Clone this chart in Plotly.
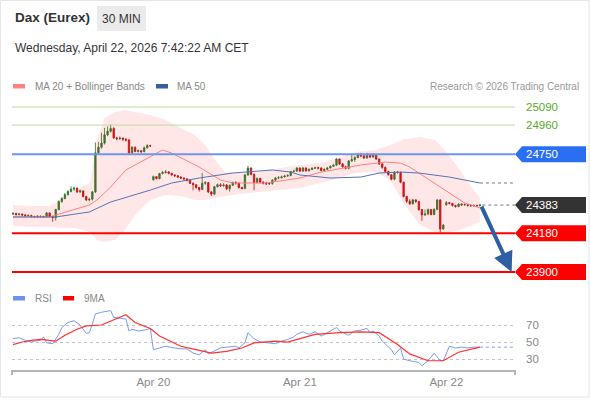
import plotly.graph_objects as go

# ---- 30 min candles, x = bar index ----
opens = [24318, 24322, 24315, 24318, 24312, 24306, 24308, 24300, 24297, 24302,
         24300, 24298, 24326, 24300, 24292, 24350, 24408, 24430, 24458, 24480,
         24498, 24505, 24478, 24485, 24445, 24420, 24425, 24478, 24760, 24800,
         24830, 24890, 24915, 24935, 24868, 24862, 24866, 24858, 24852, 24760,
         24800, 24770, 24775, 24768, 24796, 24812, 24565, 24588, 24574, 24610,
         24618, 24622, 24612, 24600, 24595, 24585, 24578, 24572, 24562, 24540,
         24530, 24510, 24495, 24540, 24545, 24478, 24462, 24515, 24530, 24522,
         24528, 24500, 24525, 24545, 24542, 24510, 24502, 24600, 24650, 24605,
         24545, 24575, 24548, 24540, 24535, 24538, 24562, 24578, 24580, 24586,
         24592, 24596, 24625, 24628, 24650, 24628, 24650, 24630, 24640, 24648,
         24652, 24650, 24632, 24640, 24650, 24662, 24670, 24715, 24680, 24660,
         24648, 24700, 24712, 24725, 24745, 24738, 24722, 24742, 24730, 24744,
         24715, 24680, 24655, 24625, 24602, 24570, 24620, 24618, 24548, 24445,
         24410, 24392, 24420, 24408, 24350, 24312, 24318, 24350, 24315, 24352,
         24420, 24210, 24385, 24400, 24395, 24380, 24372, 24390, 24384, 24386,
         24380, 24378, 24380, 24378]
highs = [24332, 24328, 24326, 24322, 24318, 24316, 24312, 24306, 24310, 24308,
         24306, 24334, 24330, 24304, 24356, 24416, 24440, 24470, 24490, 24518,
         24515, 24510, 24495, 24490, 24450, 24436, 24485, 24835, 24838, 24905,
         24940, 24950, 24965, 24945, 24875, 24878, 24870, 24866, 24860, 24808,
         24805, 24786, 24780, 24806, 24822, 24818, 24596, 24592, 24615, 24630,
         24636, 24628, 24615, 24605, 24598, 24590, 24582, 24575, 24565, 24545,
         24532, 24512, 24615, 24556, 24550, 24485, 24522, 24538, 24540, 24540,
         24535, 24532, 24552, 24555, 24545, 24515, 24608, 24665, 24655, 24610,
         24582, 24580, 24555, 24552, 24548, 24570, 24586, 24592, 24596, 24602,
         24606, 24630, 24638, 24656, 24655, 24658, 24655, 24648, 24656, 24660,
         24660, 24655, 24648, 24658, 24670, 24680, 24720, 24718, 24686, 24666,
         24708, 24755, 24735, 24758, 24760, 24748, 24760, 24748, 24755, 24750,
         24718, 24685, 24660, 24630, 24606, 24628, 24630, 24625, 24552, 24450,
         24425, 24428, 24425, 24412, 24355, 24350, 24358, 24355, 24360, 24425,
         24425, 24246, 24412, 24405, 24398, 24385, 24396, 24394, 24395, 24390,
         24388, 24388, 24386, 24390]
lows = [24310, 24306, 24308, 24304, 24298, 24299, 24292, 24290, 24290, 24292,
        24290, 24294, 24294, 24262, 24270, 24345, 24400, 24425, 24452, 24475,
        24485, 24470, 24470, 24438, 24412, 24410, 24415, 24470, 24752, 24790,
        24820, 24880, 24905, 24860, 24850, 24852, 24845, 24840, 24750, 24752,
        24764, 24762, 24758, 24764, 24790, 24802, 24560, 24568, 24568, 24605,
        24610, 24605, 24595, 24585, 24578, 24570, 24562, 24552, 24535, 24490,
        24500, 24480, 24490, 24530, 24470, 24448, 24455, 24510, 24515, 24515,
        24490, 24480, 24520, 24530, 24502, 24495, 24498, 24595, 24598, 24490,
        24540, 24540, 24532, 24528, 24528, 24530, 24556, 24570, 24575, 24582,
        24586, 24590, 24618, 24622, 24620, 24622, 24624, 24624, 24636, 24644,
        24640, 24626, 24628, 24638, 24648, 24660, 24668, 24672, 24652, 24640,
        24640, 24698, 24695, 24722, 24728, 24716, 24718, 24722, 24722, 24708,
        24672, 24645, 24615, 24595, 24562, 24562, 24610, 24540, 24438, 24398,
        24385, 24385, 24398, 24342, 24270, 24305, 24310, 24308, 24310, 24345,
        24185, 24205, 24378, 24388, 24372, 24365, 24368, 24376, 24378, 24372,
        24370, 24372, 24370, 24376]
closes = [24322, 24315, 24318, 24312, 24306, 24308, 24300, 24297, 24302, 24300,
          24298, 24326, 24300, 24292, 24350, 24408, 24430, 24458, 24480, 24498,
          24505, 24478, 24485, 24445, 24420, 24425, 24478, 24760, 24800, 24830,
          24890, 24915, 24935, 24868, 24862, 24866, 24858, 24852, 24760, 24800,
          24770, 24775, 24768, 24796, 24812, 24810, 24588, 24574, 24610, 24618,
          24622, 24612, 24600, 24595, 24585, 24578, 24572, 24562, 24540, 24530,
          24510, 24495, 24540, 24545, 24478, 24462, 24515, 24530, 24522, 24528,
          24500, 24525, 24545, 24542, 24510, 24502, 24600, 24650, 24605, 24545,
          24575, 24548, 24540, 24535, 24538, 24562, 24578, 24580, 24586, 24592,
          24596, 24625, 24628, 24650, 24628, 24650, 24630, 24640, 24648, 24652,
          24650, 24632, 24640, 24650, 24662, 24670, 24715, 24680, 24660, 24648,
          24700, 24712, 24725, 24745, 24738, 24722, 24742, 24730, 24744, 24715,
          24680, 24655, 24625, 24602, 24570, 24620, 24618, 24548, 24445, 24410,
          24392, 24420, 24408, 24350, 24312, 24318, 24350, 24315, 24352, 24420,
          24210, 24238, 24400, 24395, 24380, 24372, 24390, 24384, 24386, 24380,
          24378, 24380, 24378, 24383]
bars = list(range(len(closes)))

# moving averages / bollinger (bar index, price)
ma20_idx = [0, 12, 14, 25, 27.5, 32, 37, 43, 49, 52, 61, 68, 72, 83, 94, 101, 114, 122, 127, 130, 133, 140, 145, 148, 153]
ma20_val = [24297, 24297, 24311, 24383, 24419, 24513, 24636, 24708, 24780, 24758, 24657, 24564, 24542, 24542, 24578,
            24621, 24672, 24693, 24686, 24657, 24614, 24513, 24441, 24398, 24362]
ma50_idx = [0, 14, 25, 32, 45, 52, 61, 72, 85, 91, 94, 104, 114, 120, 127, 133, 143, 153]
ma50_val = [24297, 24297, 24333, 24405, 24491, 24542, 24578, 24614, 24636, 24621, 24600, 24578, 24585, 24614,
            24621, 24614, 24585, 24542]
band_idx = [0, 5.6, 12, 15.4, 20.3, 25.2, 27.5, 30, 33.4, 36.7, 40, 45, 50, 54.7, 59.6, 63, 66.2, 69.5, 74.4,
            81, 87.5, 94, 100.6, 107, 112, 118.6, 123.5, 128.4, 133.4, 138.3, 141.5, 146.5, 149.7, 153]
band_upper = [24383, 24376, 24376, 24419, 24491, 24542, 24852, 25011, 25054, 25068, 25054, 25032, 24996, 24946,
              24888, 24816, 24708, 24621, 24614, 24621, 24650, 24672, 24686, 24722, 24766, 24780, 24816, 24860,
              24874, 24852, 24780, 24636, 24527, 24434]
band_lower = [24232, 24225, 24225, 24217, 24217, 24189, 24131, 24116, 24131, 24203, 24311, 24419, 24455, 24448,
              24419, 24419, 24434, 24448, 24463, 24477, 24491, 24506, 24542, 24578, 24614, 24621, 24564, 24383,
              24239, 24189, 24181, 24203, 24232, 24261]

# RSI and its 9 period MA
rsi_idx = [0, 2, 4, 6, 7, 9, 10, 11, 13, 15, 16, 18, 20, 22, 24, 25, 26, 27, 29, 32, 33, 35, 37, 38, 39, 41, 43,
           45, 46, 48, 50, 53, 55, 57, 59, 61, 63, 64, 66, 68, 70, 73, 74, 76, 77, 79, 81, 83, 86, 88, 90, 92, 93,
           95, 97, 99, 101, 103, 106, 107, 110, 112, 114, 116, 117, 118, 120, 121, 123, 124, 125, 127, 128, 130,
           133, 134, 136, 138, 140, 141, 143, 145, 147, 149, 151, 153]
rsi_val = [54, 55, 52, 50, 51, 52, 56, 49, 48, 59, 67, 73, 75, 70, 60, 61, 71, 83, 85, 87, 79, 78, 77, 63, 65, 63,
           64, 66, 41, 43, 45, 43, 42, 42, 37, 35, 41, 36, 40, 43, 44, 45, 43, 49, 61, 54, 50, 49, 48, 51, 53, 56,
           59, 62, 59, 62, 57, 61, 67, 63, 58, 63, 64, 66, 61, 63, 57, 51, 45, 41, 35, 43, 30, 28, 26, 22, 28, 37,
           28, 28, 45, 43, 44, 43, 44, 44]
ma9_idx = [0, 3, 6, 9, 14, 17, 21, 24, 29, 33, 37, 40, 45, 48, 55, 60, 65, 70, 75, 79, 86, 90, 93, 99, 107, 114,
           120, 126, 130, 136, 141, 146, 153]
ma9_val = [47, 50, 52, 53, 51, 58, 65, 69, 70, 76, 82, 73, 66, 57, 45, 41, 37, 39, 43, 49, 51, 50, 53, 59, 61, 62,
           61, 47, 36, 28, 28, 38, 44]

# key levels
resistances = [25090, 24960]
pivot = 24750
supports = [24180, 23900]
target = 23900

day_ticks = [46, 94, 142]
day_labels = ["Apr 20", "Apr 21", "Apr 22"]

FONT = "Liberation Sans, Arial, sans-serif"
X_END = 164.5


def px(X):   # pixel -> paper x
    return (X - 12) / 503


def py(Y):   # pixel -> paper y
    return (370 - Y) / 275


def label(X, Y, text, size, color, anchor="left"):
    return dict(xref="paper", yref="paper", x=px(X), y=py(Y), text=text, showarrow=False,
                xanchor=anchor, yanchor="middle", font=dict(size=size, color=color, family=FONT))


fig = go.Figure()

fig.add_trace(go.Scatter(x=band_idx, y=band_lower, mode="lines", line=dict(width=0),
                         hoverinfo="skip", showlegend=False))
fig.add_trace(go.Scatter(x=band_idx, y=band_upper, mode="lines", line=dict(width=0),
                         fill="tonexty", fillcolor="rgba(255,40,40,0.11)",
                         hoverinfo="skip", showlegend=False))
fig.add_trace(go.Scatter(x=ma20_idx, y=ma20_val, mode="lines",
                         line=dict(color="#ff8080", width=1), showlegend=False))
fig.add_trace(go.Scatter(x=ma50_idx, y=ma50_val, mode="lines",
                         line=dict(color="#5275b8", width=1), showlegend=False))
fig.add_trace(go.Scatter(x=[ma50_idx[-1], X_END], y=[ma50_val[-1]] * 2, mode="lines",
                         line=dict(color="#777", width=1, dash="dot"), showlegend=False))
fig.add_trace(go.Scatter(x=[bars[-1] + 0.8, X_END], y=[closes[-1]] * 2, mode="lines",
                         line=dict(color="#777", width=1, dash="dot"), showlegend=False))

fig.add_trace(go.Candlestick(
    x=bars, open=opens, high=highs, low=lows, close=closes,
    increasing=dict(fillcolor="#1f8a1f", line=dict(color="#2a6e2a", width=0.8)),
    decreasing=dict(fillcolor="#ee1010", line=dict(color="#b01010", width=0.8)),
    showlegend=False))

# RSI panel
fig.add_trace(go.Scatter(x=rsi_idx, y=rsi_val, mode="lines", xaxis="x2", yaxis="y2",
                         line=dict(color="#7b9be8", width=1), showlegend=False))
fig.add_trace(go.Scatter(x=ma9_idx, y=ma9_val, mode="lines", xaxis="x2", yaxis="y2",
                         line=dict(color="#ff3030", width=1.2), showlegend=False))
fig.add_trace(go.Scatter(x=[rsi_idx[-1], X_END], y=[rsi_val[-1]] * 2, mode="lines", xaxis="x2", yaxis="y2",
                         line=dict(color="#7b9be8", width=1, dash="dot"), showlegend=False))

shapes = []
annotations = []

# card border
shapes.append(dict(type="rect", xref="paper", yref="paper", x0=px(0.5), x1=px(589), y0=py(397), y1=py(0.5),
                   line=dict(color="#e6e6e6", width=1), layer="below"))

# level lines
for lvl in resistances:
    shapes.append(dict(type="line", xref="paper", yref="y", x0=0, x1=1, y0=lvl, y1=lvl,
                       line=dict(color="#b9dca4", width=1)))
    annotations.append(dict(xref="paper", yref="y", x=px(524), y=lvl, text=str(lvl), showarrow=False,
                            xanchor="left", yanchor="middle",
                            font=dict(color="#58a828", size=11.5, family=FONT)))

tags = [(pivot, "#2a6ff2", "#6d95ef", 2)] + [(s, "#ff0000", "#ff0000", 2) for s in supports]
tags.append((closes[-1], "#333333", None, 0))
dh = 8 * 7.212
for lvl, col, lcol, lw in tags:
    if lcol:
        shapes.append(dict(type="line", xref="paper", yref="y", x0=0, x1=1, y0=lvl, y1=lvl,
                           line=dict(color=lcol, width=lw)))
    shapes.append(dict(type="path", xref="paper", yref="y",
                       path=f"M {px(515)},{lvl} L {px(522)},{lvl + dh} L {px(586)},{lvl + dh} "
                            f"L {px(586)},{lvl - dh} L {px(522)},{lvl - dh} Z",
                       fillcolor=col, line=dict(width=0)))
    annotations.append(dict(xref="paper", yref="y", x=px(524), y=lvl, text=str(lvl), showarrow=False,
                            xanchor="left", yanchor="middle",
                            font=dict(color="white", size=11.5, family=FONT)))

# forecast arrow
annotations.append(dict(x=163.4, y=target, ax=bars[-1] + 0.3, ay=closes[-1], xref="x", yref="y",
                        axref="x", ayref="y", text="", showarrow=True, arrowhead=2, arrowsize=1,
                        arrowwidth=4, arrowcolor="#2e5fa3", standoff=0))

# header + legends
annotations += [
    label(13, 18, "<b>Dax (Eurex)</b>", 13.5, "#333"),
    label(121.5, 18.5, "30 MIN", 12, "#333", "center"),
    label(13, 48, "Wednesday, April 22, 2026 7:42:22 AM CET", 12, "#333"),
    label(33, 86, "MA 20 + Bollinger Bands", 10, "#888"),
    label(175, 86, "MA 50", 10, "#888"),
    label(581, 86, "Research © 2026 Trading Central", 10, "#999", "right"),
    label(33, 298, "RSI", 10, "#888"),
    label(82, 298, "9MA", 10, "#888"),
]
shapes += [
    dict(type="rect", xref="paper", yref="paper", x0=px(97), x1=px(146), y0=py(31), y1=py(6),
         fillcolor="#ebebeb", line=dict(width=0), layer="below"),
    dict(type="rect", xref="paper", yref="paper", x0=px(13), x1=px(25), y0=py(88.5), y1=py(84),
         fillcolor="#ff8282", line=dict(width=0)),
    dict(type="rect", xref="paper", yref="paper", x0=px(156), x1=px(168), y0=py(88.5), y1=py(84),
         fillcolor="#3a5ea0", line=dict(width=0)),
    dict(type="rect", xref="paper", yref="paper", x0=px(13), x1=px(25), y0=py(300.5), y1=py(296),
         fillcolor="#6f92e6", line=dict(width=0)),
    dict(type="rect", xref="paper", yref="paper", x0=px(63), x1=px(74), y0=py(300.5), y1=py(296),
         fillcolor="#ff0000", line=dict(width=0)),
    dict(type="line", xref="paper", yref="paper", x0=0, x1=0, y0=0, y1=py(375),
         line=dict(color="#b4b4b4", width=2)),
    dict(type="line", xref="paper", yref="paper", x0=1, x1=1, y0=0, y1=py(375),
         line=dict(color="#b4b4b4", width=2)),
]

# RSI level labels
for v in [70, 50, 30]:
    annotations.append(dict(xref="paper", yref="y2", x=px(524), y=v, text=str(v), showarrow=False,
                            xanchor="left", yanchor="middle", font=dict(size=11.5, color="#888", family=FONT)))

fig.update_layout(
    width=590, height=400,
    margin=dict(l=12, r=75, t=95, b=30),
    paper_bgcolor="white", plot_bgcolor="white",
    font=dict(family=FONT),
    boxgap=0.35,
    showlegend=False,
    xaxis=dict(domain=[0, 1], range=[-0.33, X_END], anchor="y", visible=False,
               rangeslider=dict(visible=False)),
    yaxis=dict(domain=[0.309, 1], range=[23806, 25177], visible=False),
    xaxis2=dict(domain=[0, 1], range=[-0.33, X_END], anchor="y2", showgrid=False, zeroline=False,
                tickvals=day_ticks, ticktext=day_labels, ticks="", showline=True,
                linecolor="#b4b4b4", linewidth=2, tickfont=dict(size=11.5, color="#888")),
    yaxis2=dict(domain=[0, 0.218], range=[17.1, 87.6], tickvals=[30, 50, 70], showticklabels=False,
                showgrid=True, gridcolor="#c4c4c4", griddash="dot", zeroline=False),
    shapes=shapes,
    annotations=annotations,
)

# page body has a default 8px margin; drop it so the chart sits at the window origin
fig.write_html("out.html", config={"displayModeBar": False},
               post_script="document.body.style.margin='0px';")
